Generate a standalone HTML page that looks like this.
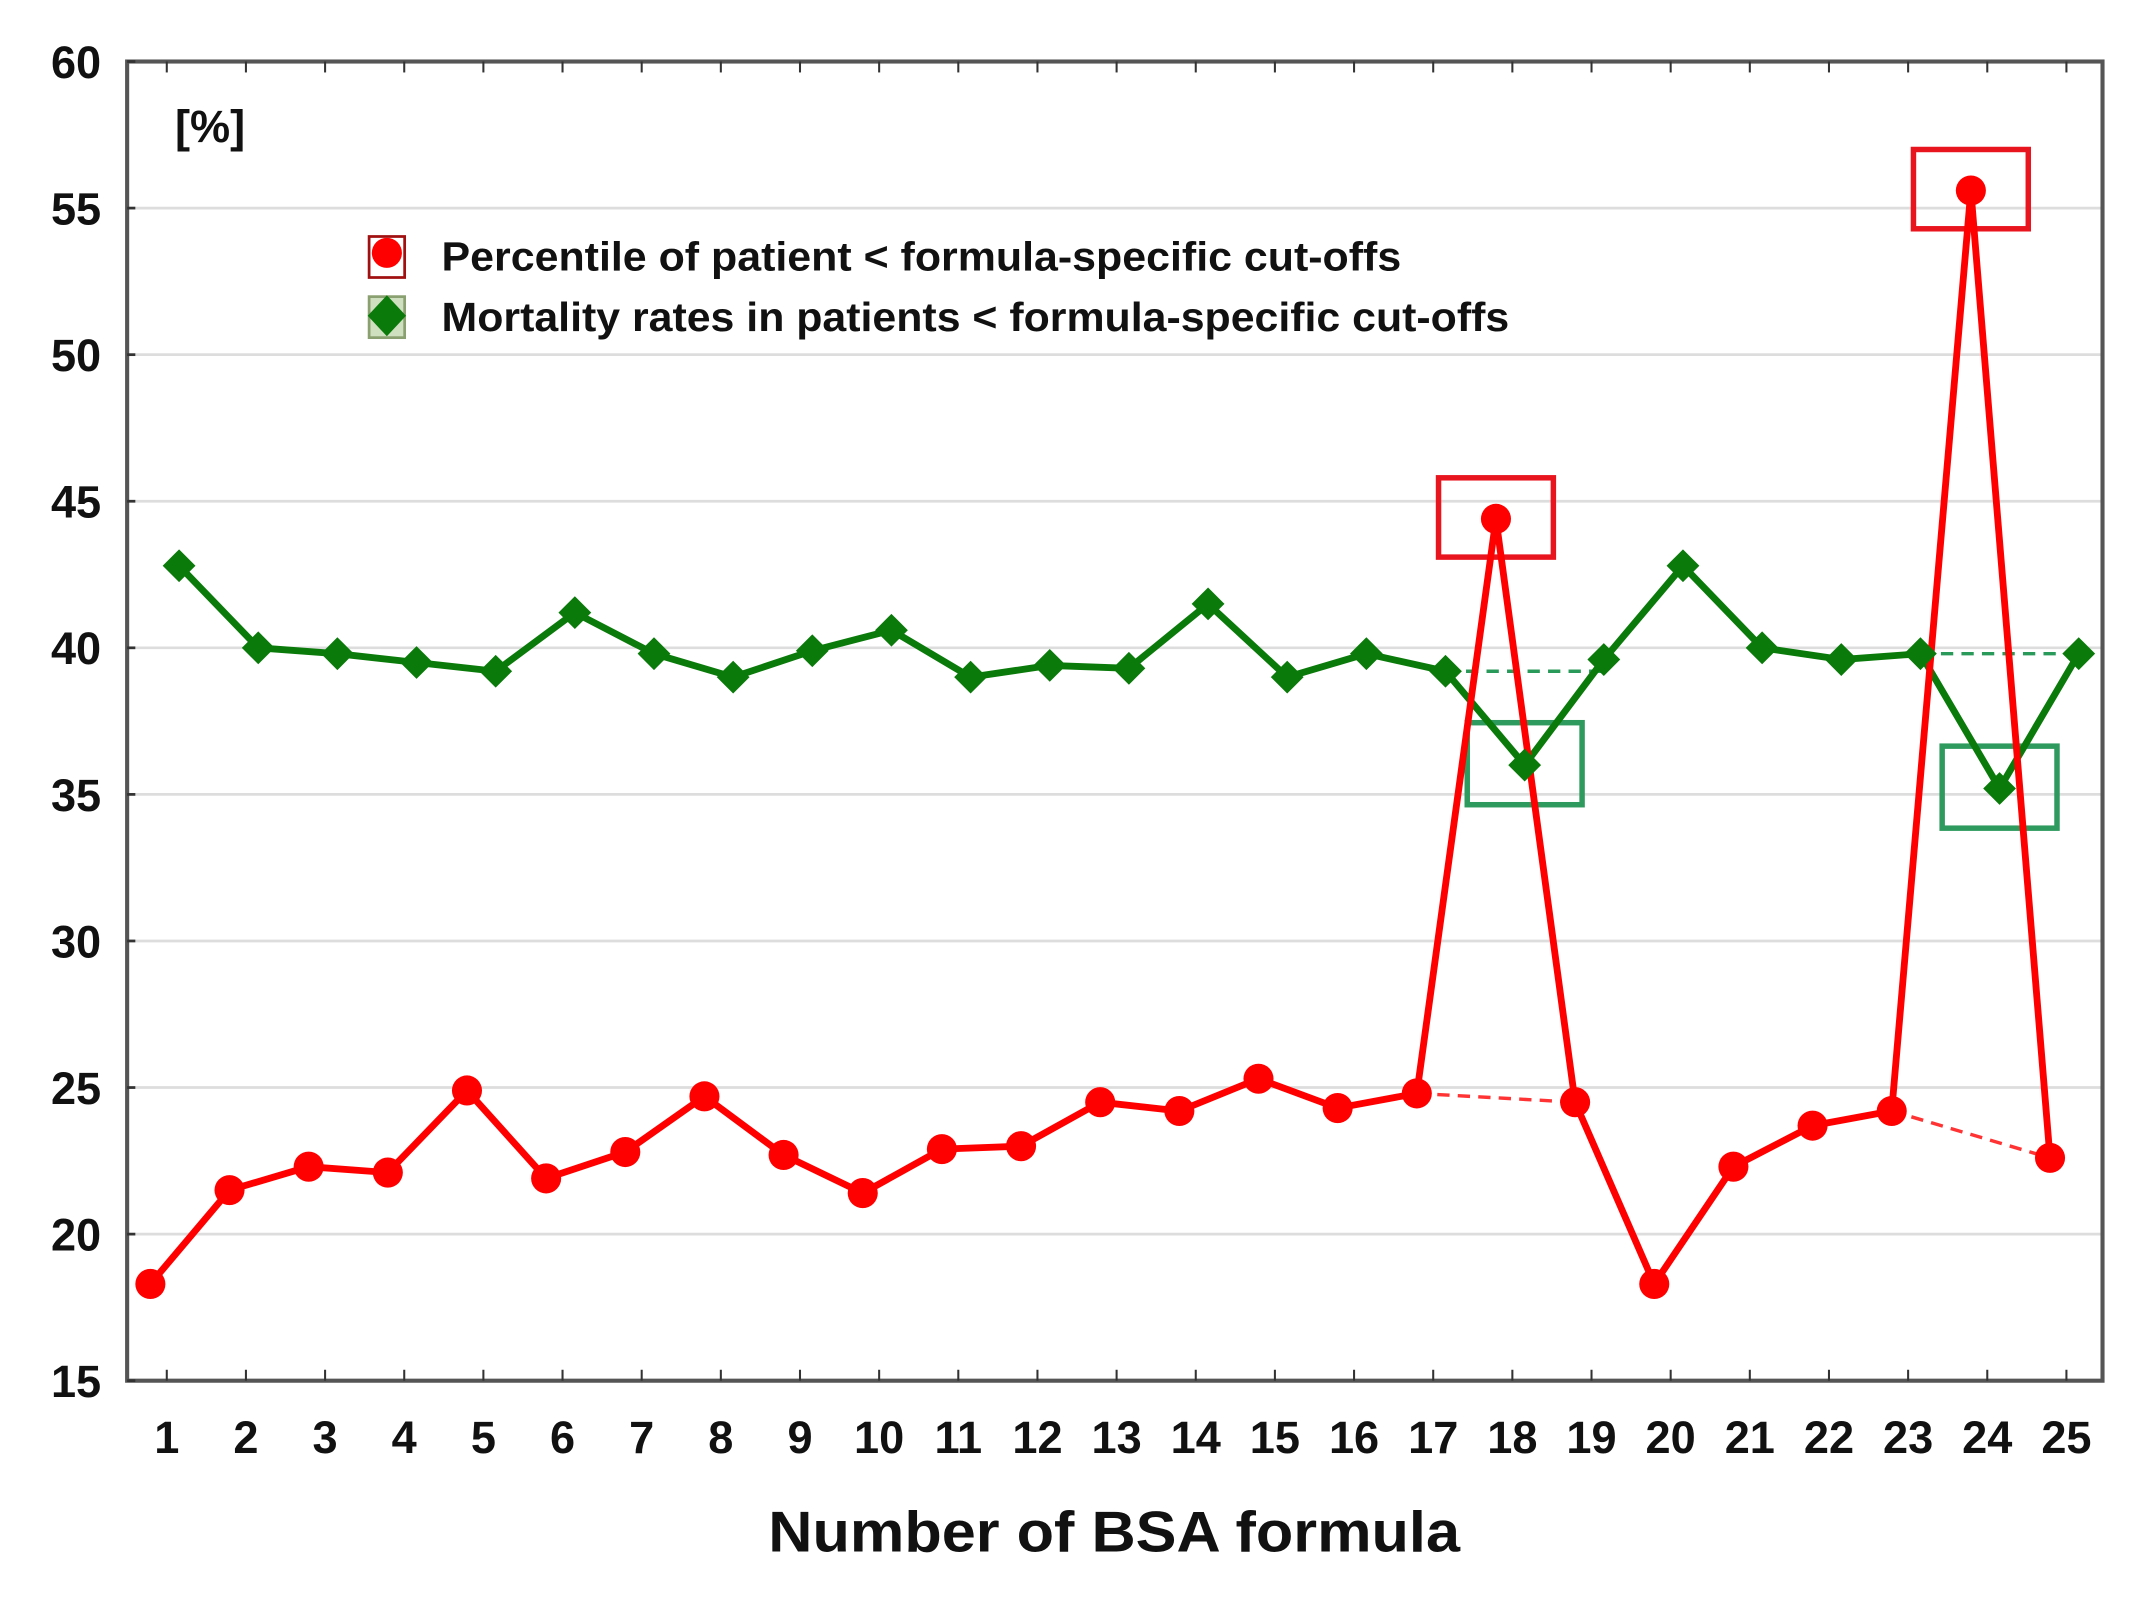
<!DOCTYPE html>
<html><head><meta charset="utf-8"><style>html,body{margin:0;padding:0;background:#fff}svg{display:block}</style></head>
<body>
<svg id="chart" width="2133" height="1615" viewBox="0 0 1560.3 1181.4" preserveAspectRatio="none" xmlns="http://www.w3.org/2000/svg" font-family="'Liberation Sans', sans-serif">
<g id="grid"></g>
<g id="annot"></g>
<g id="series"></g>
<rect x="93" y="45" width="1445" height="965" fill="none" stroke="#555" stroke-width="3"/>
<g id="axes"></g>
<text x="128" y="104" font-size="33" font-weight="bold" fill="#111">[%]</text>
<g>
  <g>
    <rect x="270" y="173" width="26" height="30" fill="#fff" stroke="#a01010" stroke-width="2"/>
    <circle cx="283" cy="185" r="11" fill="#f00"/>
    <text x="323" y="198" font-size="30" font-weight="bold" fill="#111" textLength="702" lengthAdjust="spacingAndGlyphs">Percentile of patient &lt; formula-specific cut-offs</text>
  </g>
  <g>
    <rect x="270" y="217" width="26" height="30" fill="#cfe0c0" stroke="#8aa070" stroke-width="2"/>
    <polygon points="283,216 297,231 283,246 269,231" fill="#0a7a0a"/>
    <text x="323" y="242" font-size="30" font-weight="bold" fill="#111" textLength="781" lengthAdjust="spacingAndGlyphs">Mortality rates in patients &lt; formula-specific cut-offs</text>
  </g>
</g>
<text x="815" y="1135" font-size="42" font-weight="bold" text-anchor="middle" fill="#111" textLength="506" lengthAdjust="spacingAndGlyphs">Number of BSA formula</text>
</svg>
<script>
const categories = [1,2,3,4,5,6,7,8,9,10,11,12,13,14,15,16,17,18,19,20,21,22,23,24,25];
const percentile = [18.3,21.5,22.3,22.1,24.9,21.9,22.8,24.7,22.7,21.4,22.9,23.0,24.5,24.2,25.3,24.3,24.8,44.4,24.5,18.3,22.3,23.7,24.2,55.6,22.6];
const mortality = [42.8,40.0,39.8,39.5,39.2,41.2,39.8,39.0,39.9,40.6,39.0,39.4,39.3,41.5,39.0,39.8,39.2,36.0,39.6,42.8,40.0,39.6,39.8,35.2,39.8];
const yTicks = [15,20,25,30,35,40,45,50,55,60];
const highlighted = [18,24];

const NS = 'http://www.w3.org/2000/svg';
const X0 = 93, X1 = 1538, Y0 = 45, Y1 = 1010;
function xs(c){ return 122 + (c - 1) * 57.9; }
function ys(v){ return Y1 - (v - 15) / 45 * (Y1 - Y0); }
function mk(tag, attrs, parent){ const e = document.createElementNS(NS, tag); for (const k in attrs) e.setAttribute(k, attrs[k]); parent.appendChild(e); return e; }
const grid = document.getElementById('grid'), axes = document.getElementById('axes'), series = document.getElementById('series'), annot = document.getElementById('annot');

yTicks.forEach(t => {
  const y = ys(t);
  if (t > 15 && t < 60) {
    const g = mk('line', {x1:X0, x2:X1, y1:y, y2:y, stroke:'#ddd', 'stroke-width':2}, grid);
    
    
  }
  const tk = mk('line', {x1:X0, x2:X0+6, y1:y, y2:y, stroke:'#333', 'stroke-width':2}, axes);
  
  
  const lb = mk('text', {x:74, y:y+12, 'font-size':33, 'font-weight':'bold', 'text-anchor':'end', fill:'#111'}, axes);
  lb.textContent = t;
  
  
});
categories.forEach(c => {
  const x = xs(c);
  const tb = mk('line', {x1:x, x2:x, y1:Y1, y2:Y1-8, stroke:'#333', 'stroke-width':1.5}, axes);
  
  
  const tt = mk('line', {x1:x, x2:x, y1:Y0, y2:Y0+8, stroke:'#333', 'stroke-width':1.5}, axes);
  
  
  const lb = mk('text', {x:x, y:1063, 'font-size':33, 'font-weight':'bold', 'text-anchor':'middle', fill:'#111'}, axes);
  lb.textContent = c;
  
  
});

const RO = -12, GO = 9;
function px(i, off){ return xs(categories[i]) + off; }
highlighted.forEach(h => {
  const i = categories.indexOf(h);
  const dr = mk('line', {x1:px(i-1,RO), y1:ys(percentile[i-1]), x2:px(i+1,RO), y2:ys(percentile[i+1]), stroke:'#f33', 'stroke-width':2.5, 'stroke-dasharray':'9 6'}, series);
  
  
  const dg = mk('line', {x1:px(i-1,GO), y1:ys(mortality[i-1]), x2:px(i+1,GO), y2:ys(mortality[i-1]), stroke:'#2a9a5a', 'stroke-width':2.5, 'stroke-dasharray':'9 6'}, series);
  
  
});

const gl = mk('polyline', {points: mortality.map((v,i)=>px(i,GO)+','+ys(v)).join(' '), fill:'none', stroke:'#0a7a0a', 'stroke-width':5, 'stroke-linejoin':'round'}, series);


const rl = mk('polyline', {points: percentile.map((v,i)=>px(i,RO)+','+ys(v)).join(' '), fill:'none', stroke:'#f00', 'stroke-width':5, 'stroke-linejoin':'round'}, series);



mortality.forEach((v,i) => {
  const x = px(i,GO), y = ys(v), s = 12;
  const d = mk('polygon', {points:`${x},${y-s} ${x+s},${y} ${x},${y+s} ${x-s},${y}`, fill:'#0a7a0a'}, series);
  
  
});
percentile.forEach((v,i) => {
  const c = mk('circle', {cx:px(i,RO), cy:ys(v), r:11, fill:'#f00'}, series);
  
  
});

highlighted.forEach(h => {
  const i = categories.indexOf(h);
  const rb = mk('rect', {x:px(i,RO)-42, y:ys(percentile[i])-30, width:84, height:58, fill:'none', stroke:'#e8141e', 'stroke-width':4}, annot);
  
  
  const gb = mk('rect', {x:px(i,GO)-42, y:ys(mortality[i])-31, width:84, height:60, fill:'none', stroke:'#2e9a5e', 'stroke-width':4}, annot);
  
  
});
</script>
</body></html>
